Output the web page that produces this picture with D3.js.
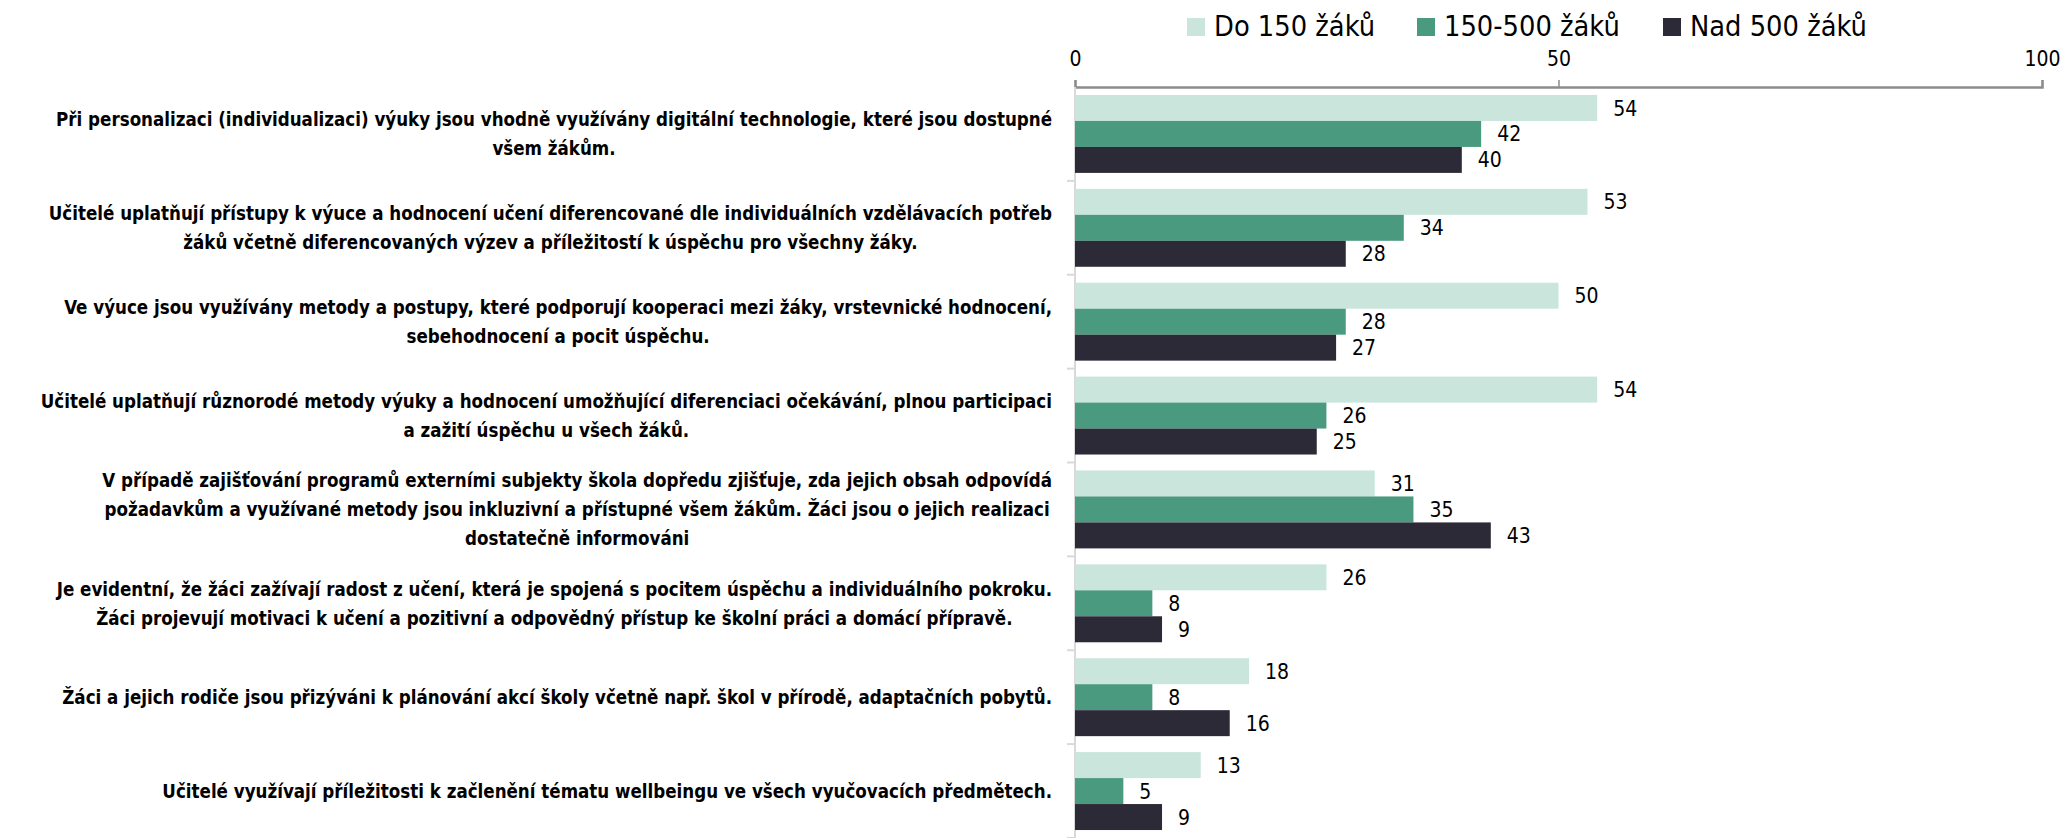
<!DOCTYPE html>
<html>
<head>
<meta charset="utf-8">
<script src="https://cdn.jsdelivr.net/npm/d3@7"></script>
<style>
  body { margin: 0; background: #fff; }
  svg text { font-family: "DejaVu Sans Condensed", "DejaVu Sans", sans-serif; font-stretch: condensed; fill: #000; }
</style>
</head>
<body>
<div id="chart"></div>
<script>
let width = 2062;
let height = 838;

let seriesNames = ["Do 150 žáků", "150-500 žáků", "Nad 500 žáků"];
let seriesColors = ["#c9e5dc", "#4a9a80", "#2b2a36"];

let categories = [
    ["Při personalizaci (individualizaci) výuky jsou vhodně využívány digitální technologie, které jsou dostupné", "všem žákům."],
    ["Učitelé uplatňují přístupy k výuce a hodnocení učení diferencované dle individuálních vzdělávacích potřeb", "žáků včetně diferencovaných výzev a příležitostí k úspěchu pro všechny žáky."],
    ["Ve výuce jsou využívány metody a postupy, které podporují kooperaci mezi žáky, vrstevnické hodnocení,", "sebehodnocení a pocit úspěchu."],
    ["Učitelé uplatňují různorodé metody výuky a hodnocení umožňující diferenciaci očekávání, plnou participaci", "a zažití úspěchu u všech žáků."],
    ["V případě zajišťování programů externími subjekty škola dopředu zjišťuje, zda jejich obsah odpovídá", "požadavkům a využívané metody jsou inkluzivní a přístupné všem žákům. Žáci jsou o jejich realizaci", "dostatečně informováni"],
    ["Je evidentní, že žáci zažívají radost z učení, která je spojená s pocitem úspěchu a individuálního pokroku.", "Žáci projevují motivaci k učení a pozitivní a odpovědný přístup ke školní práci a domácí přípravě."],
    ["Žáci a jejich rodiče jsou přizýváni k plánování akcí školy včetně např. škol v přírodě, adaptačních pobytů."],
    ["Učitelé využívají příležitosti k začlenění tématu wellbeingu ve všech vyučovacích předmětech."]
];

let do150 = [54, 53, 50, 54, 31, 26, 18, 13];
let od150do500 = [42, 34, 28, 26, 35, 8, 8, 5];
let nad500 = [40, 28, 27, 25, 43, 9, 16, 9];

let xTicks = [0, 50, 100];

let series = [do150, od150do500, nad500];

let svg = d3.select('#chart')
    .append('svg')
    .attr('width', width)
    .attr('height', height);

let x = d3.scaleLinear()
    .domain([0, 100])
    .range([1075, 2042]);

let y = d3.scaleBand()
    .domain(d3.range(categories.length))
    .range([87, 838])
    .paddingInner(0.17)
    .paddingOuter(0.085);

let yInner = d3.scaleBand()
    .domain(d3.range(series.length))
    .range([0, y.bandwidth()]);

// top axis
let xAxis = d3.axisTop(x)
    .tickValues(xTicks)
    .tickSize(7)
    .tickPadding(14)
    .tickFormat(d3.format('d'));
let gx = svg.append('g')
    .attr('transform', 'translate(0,87)')
    .call(xAxis);
gx.select('.domain').attr('stroke', '#8c8c8c').attr('stroke-width', 2.5);
gx.selectAll('.tick line').attr('stroke', '#8c8c8c').attr('stroke-width', 1.5);
gx.selectAll('.tick text')
    .style('font-size', '21px')
    .style('font-family', '"DejaVu Sans Condensed", "DejaVu Sans", sans-serif');

// category axis line with ticks between groups
let step = y.step();
let boundaries = d3.range(categories.length + 1).map(i => y(0) - y.paddingOuter() * step + i * step);
svg.append('line')
    .attr('x1', x(0)).attr('x2', x(0))
    .attr('y1', 87).attr('y2', height)
    .attr('stroke', '#d9d9d9').attr('stroke-width', 2);
svg.selectAll('.cattick')
    .data(boundaries.slice(1))
    .enter().append('line')
    .attr('x1', x(0) - 8).attr('x2', x(0))
    .attr('y1', d => d).attr('y2', d => d)
    .attr('stroke', '#d9d9d9').attr('stroke-width', 2);

// bars
series.forEach(function (vals, s) {
    svg.selectAll('.bar' + s)
        .data(vals)
        .enter().append('rect')
        .attr('x', x(0))
        .attr('y', (d, i) => y(i) + yInner(s))
        .attr('width', d => x(d) - x(0))
        .attr('height', yInner.bandwidth())
        .attr('fill', seriesColors[s]);

    svg.selectAll('.lab' + s)
        .data(vals)
        .enter().append('text')
        .attr('x', d => x(d) + 16)
        .attr('y', (d, i) => y(i) + yInner(s) + yInner.bandwidth() / 2)
        .attr('dy', '0.36em')
        .style('font-size', '21px')
        .text(d => d);
});

// category labels, lines centred in a block right-aligned at 1052
let lineH = 29;
let labelGroups = categories.map(function (lines, i) {
    let g = svg.append('g');
    return lines.map(function (line, k) {
        return g.append('text')
            .attr('dy', '0.36em')
            .attr('text-anchor', 'middle')
            .style('font-size', '20px')
            .style('font-weight', 'bold')
            .text(line);
    });
});
// size the font so the widest line spans ~1012px like the original
let widest = d3.max(labelGroups.flat(), t => t.node().getComputedTextLength());
let fs = 20 * 1012 / widest;
labelGroups.forEach(function (texts, i) {
    texts.forEach(t => t.style('font-size', fs + 'px'));
    let cy = y(i) + y.bandwidth() / 2;
    let maxW = d3.max(texts, t => t.node().getComputedTextLength());
    texts.forEach(function (t, k) {
        t.attr('x', 1052 - maxW / 2)
            .attr('y', cy + (k - (texts.length - 1) / 2) * lineH);
    });
});

// legend
let legendX = [1187, 1417, 1663];
seriesNames.forEach(function (name, s) {
    svg.append('rect')
        .attr('x', legendX[s]).attr('y', 18)
        .attr('width', 18).attr('height', 18)
        .attr('fill', seriesColors[s]);
    svg.append('text')
        .attr('x', legendX[s] + 27).attr('y', 26)
        .attr('dy', '0.36em')
        .style('font-size', '28.7px')
        .text(name);
});
</script>
</body>
</html>
